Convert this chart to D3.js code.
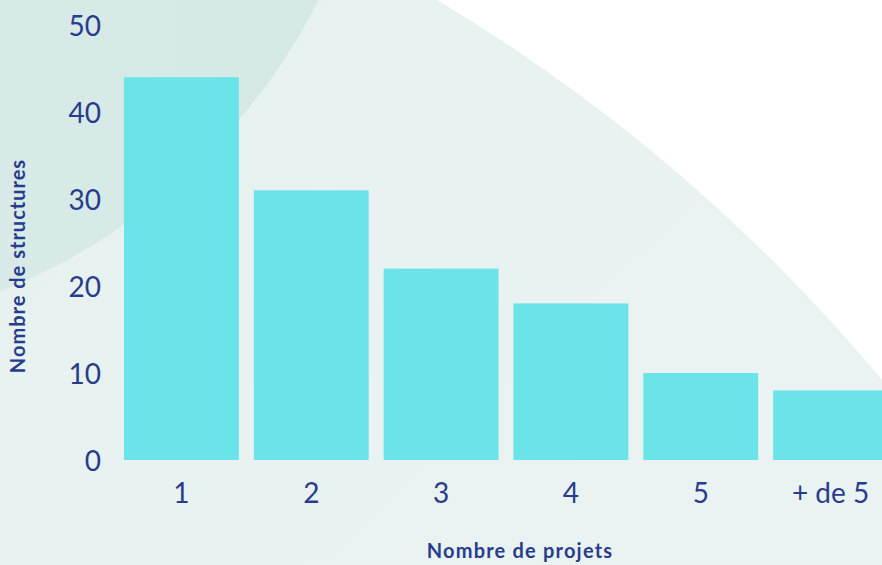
<!DOCTYPE html>
<html>
<head>
<meta charset="utf-8">
<script src="https://cdn.jsdelivr.net/npm/d3@7"></script>
<style>
  html, body { margin: 0; padding: 0; background: #ffffff; }
  svg { display: block; }
  text { font-family: Lato, "Open Sans", sans-serif; }
</style>
</head>
<body>
<div id="chart"></div>
<script>
// Nombre de structures selon le nombre de projets
const categories = ["1", "2", "3", "4", "5", "+ de 5"];
const values = [44, 31, 22, 18, 10, 8];
const yTicks = [0, 10, 20, 30, 40, 50];
const xTitle = "Nombre de projets";
const yTitle = "Nombre de structures";

const W = 882, H = 565;
const ink = "#283c8c";
const barColor = "#6ae4e8";

const svg = d3.select("#chart").append("svg")
  .attr("width", W).attr("height", H);

// Decorative background shapes
const defs = svg.append("defs");
const grad = defs.append("linearGradient")
  .attr("id", "bgGrad").attr("x1", "0.3").attr("y1", "0.3").attr("x2", "0.7").attr("y2", "0.7");
grad.append("stop").attr("offset", "0").attr("stop-color", "#e5f0ef");
grad.append("stop").attr("offset", "1").attr("stop-color", "#edf5f4");
const grad2 = defs.append("linearGradient")
  .attr("id", "cornerGrad").attr("x1", "0").attr("y1", "0.5").attr("x2", "1").attr("y2", "0.5");
grad2.append("stop").attr("offset", "0.3").attr("stop-color", "#dcedeb");
grad2.append("stop").attr("offset", "1").attr("stop-color", "#d4e8e6");

const bg = svg.append("g");
bg.append("rect").attr("width", W).attr("height", H).attr("fill", "#ffffff");
bg.append("circle").attr("cx", -464).attr("cy", 1506).attr("r", 1755)
  .attr("fill", "url(#bgGrad)");
bg.append("circle").attr("cx", -226).attr("cy", -275).attr("r", 610)
  .attr("fill", "url(#cornerGrad)");

const x = d3.scaleBand()
  .domain(categories)
  .range([116.5, 895.5])
  .paddingInner(0.115)
  .paddingOuter(0.0575);

const y = d3.scaleLinear()
  .domain([0, 50])
  .range([460, 25]);

// Bars
svg.append("g").selectAll("rect")
  .data(categories.map((c, i) => ({ c, v: values[i] })))
  .join("rect")
  .attr("x", d => x(d.c))
  .attr("width", x.bandwidth())
  .attr("y", d => y(d.v))
  .attr("height", d => y(0) - y(d.v))
  .attr("fill", barColor);

// Y axis
const yAxis = svg.append("g")
  .attr("transform", "translate(101,0)")
  .call(d3.axisLeft(y).tickValues(yTicks).tickSize(0).tickPadding(0));
yAxis.select(".domain").remove();
yAxis.selectAll("text")
  .attr("fill", ink)
  .attr("font-size", 28)
  .attr("dy", "0.36em")
  .style("font-family", "Lato, sans-serif");

// X axis
const xAxis = svg.append("g")
  .attr("transform", "translate(0,483)")
  .call(d3.axisBottom(x).tickSize(0).tickPadding(0));
xAxis.select(".domain").remove();
xAxis.selectAll("text")
  .attr("fill", ink)
  .attr("font-size", 28)
  .attr("dy", "0.71em")
  .style("font-family", "Lato, sans-serif");

// Axis titles
svg.append("text")
  .attr("x", 520).attr("y", 558)
  .attr("text-anchor", "middle")
  .attr("font-size", 20).attr("font-weight", "bold")
  .attr("letter-spacing", 1.2)
  .attr("fill", ink)
  .text(xTitle);

svg.append("text")
  .attr("transform", "translate(25,266) rotate(-90)")
  .attr("text-anchor", "middle")
  .attr("font-size", 20).attr("font-weight", "bold")
  .attr("letter-spacing", 1)
  .attr("fill", ink)
  .text(yTitle);
</script>
</body>
</html>
